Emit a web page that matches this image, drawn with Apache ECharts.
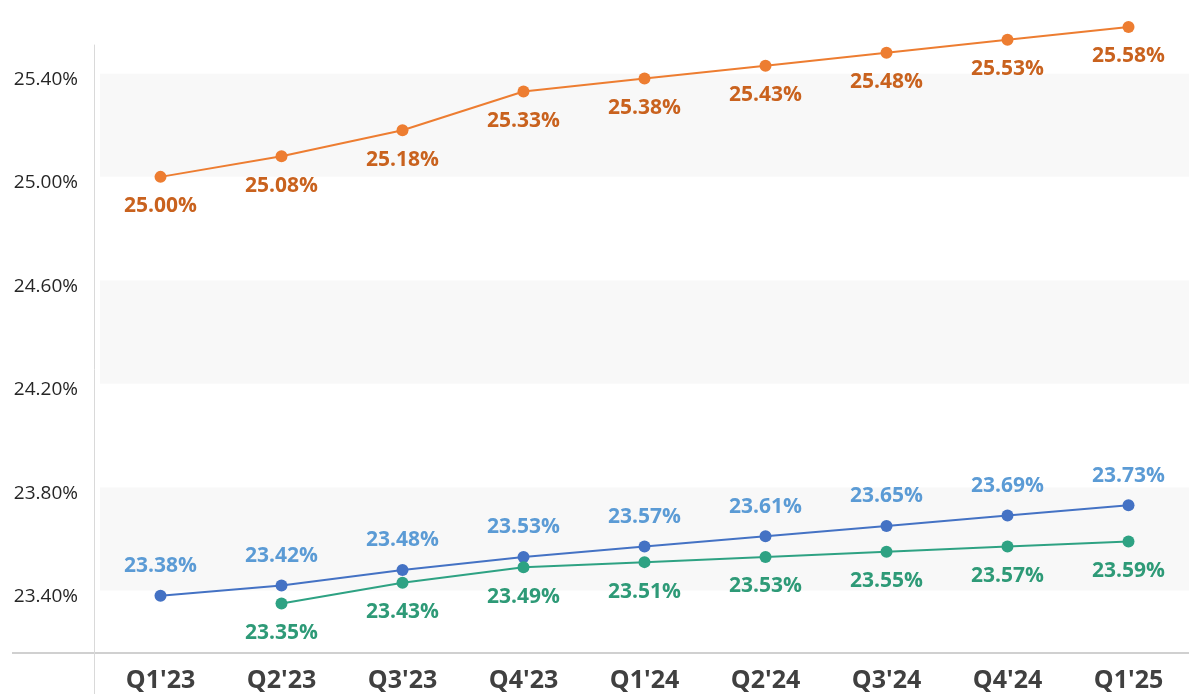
<!DOCTYPE html>
<html>
<head>
<meta charset="utf-8">
<script src="https://cdn.jsdelivr.net/npm/echarts@6/dist/echarts.min.js"></script>
<style>
  html, body { margin: 0; padding: 0; background: #fff; }
  #main { width: 1189px; height: 694px; }
</style>
</head>
<body>
<div id="main"></div>
<script>
// quarters on the x axis
var quarters = ["Q1'23", "Q2'23", "Q3'23", "Q4'23", "Q1'24", "Q2'24", "Q3'24", "Q4'24", "Q1'25"];
// values in percent
var orangeSeries = [25.00, 25.08, 25.18, 25.33, 25.38, 25.43, 25.48, 25.53, 25.58];
var blueSeries = [23.38, 23.42, 23.48, 23.53, 23.57, 23.61, 23.65, 23.69, 23.73];
var greenSeries = [null, 23.35, 23.43, 23.49, 23.51, 23.53, 23.55, 23.57, 23.59];

var fontFamily = '"Open Sans", "Noto Sans", sans-serif';

var makeLine = function(name, data, lineColor, labelColor, labelPos)
{
    return {
        name: name,
        type: 'line',
        data: data,
        clip: false,
        symbol: 'circle',
        symbolSize: 12,
        connectNulls: false,
        lineStyle: { color: lineColor, width: 2 },
        itemStyle: { color: lineColor },
        label: {
            show: true,
            position: labelPos,
            distance: 13,
            color: labelColor,
            fontFamily: fontFamily,
            fontWeight: 'bold',
            fontSize: 21,
            formatter: function(p) { return p.value.toFixed(2) + '%'; }
        },
        emphasis: { disabled: true }
    };
};

var myChart = echarts.init(document.getElementById('main'));
var option = {
    animation: false,
    grid: { left: 100, right: -4, top: 45, bottom: 0, containLabel: false },
    // the x axis line runs on a little past the y axis, to the left
    graphic: [{
        type: 'line',
        shape: { x1: 12, y1: 653, x2: 100, y2: 653 },
        style: { stroke: '#d0d0d0', lineWidth: 2 },
        silent: true
    }],
    xAxis: {
        type: 'category',
        data: quarters,
        boundaryGap: true,
        offset: -41,
        axisLine: { lineStyle: { color: '#d0d0d0', width: 2 } },
        axisTick: { show: false },
        axisLabel: {
            margin: 15,
            color: '#404040',
            fontFamily: fontFamily,
            fontWeight: 'bold',
            fontSize: 25
        }
    },
    yAxis: {
        type: 'value',
        min: 23.0,
        max: 25.51,
        interval: 0.4,
        offset: 6,
        axisLine: { show: true, lineStyle: { color: '#d9d9d9', width: 1 } },
        axisTick: { show: false },
        splitLine: { show: false },
        splitArea: { show: true, areaStyle: { color: ['#ffffff', '#f8f8f8'] } },
        axisLabel: {
            margin: 16,
            verticalAlign: 'top',
            lineHeight: 12,
            showMinLabel: false,
            showMaxLabel: false,
            color: '#262626',
            fontFamily: fontFamily,
            fontSize: 19,
            formatter: function(v) { return v.toFixed(2) + '%'; }
        }
    },
    series: [
        makeLine('orange', orangeSeries, '#ed7d31', '#c9621e', 'bottom'),
        makeLine('blue', blueSeries, '#4472c4', '#5b9bd5', 'top'),
        makeLine('green', greenSeries, '#2ea283', '#2e9a77', 'bottom')
    ]
};
myChart.setOption(option);
</script>
</body>
</html>
